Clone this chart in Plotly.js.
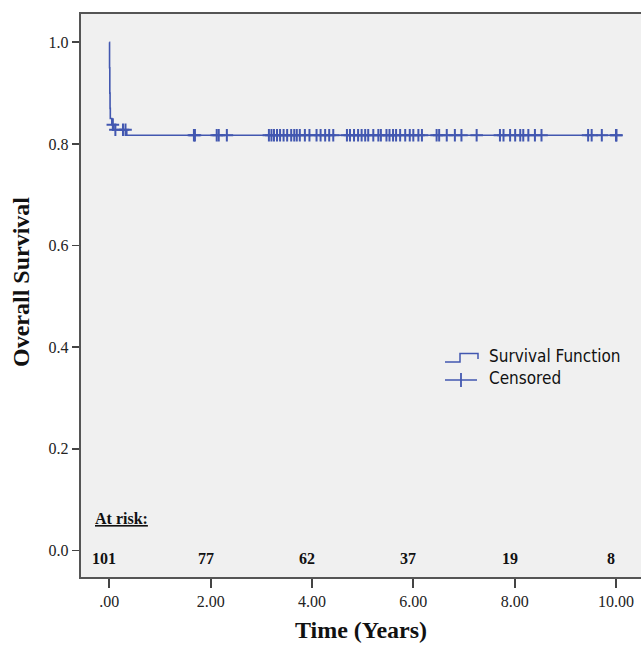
<!DOCTYPE html>
<html><head><meta charset="utf-8">
<script src="https://cdn.plot.ly/plotly-3.0.1.min.js"></script>
<style>html,body{margin:0;padding:0;background:#fff}</style>
</head><body><div id="chart" style="width:643px;height:645px"></div>
<script>
// Kaplan-Meier step function (time in years, survival proportion)
const stepTimes = [0, 0.005, 0.01, 0.015, 0.02, 0.05, 0.09, 0.345, 10.01];
const stepSurv  = [1.0, 0.95, 0.90, 0.87, 0.85, 0.838, 0.828, 0.817, 0.817];
// Censored observation times (years)
const censorTimes = [0.07, 0.12, 0.27, 0.32, 1.67, 1.69,
  2.12, 2.16, 2.32, 3.15, 3.20, 3.25, 3.31, 3.37, 3.44, 3.51, 3.59, 3.65, 3.70, 3.76, 3.86, 3.95,
  4.09, 4.17, 4.26, 4.34, 4.42, 4.69, 4.75, 4.83, 4.91, 4.98, 5.05, 5.11, 5.21, 5.31, 5.36, 5.47,
  5.53, 5.60, 5.66, 5.74, 5.84, 5.93, 6.00, 6.10, 6.17, 6.46, 6.51, 6.66, 6.82, 6.95, 7.25, 7.71,
  7.78, 7.91, 8.01, 8.11, 8.17, 8.27, 8.40, 8.53, 9.45, 9.52, 9.72, 10.00, 10.01];
// Number at risk
const riskTimes  = [0, 2, 4, 6, 8, 10];
const riskCounts = [101, 77, 62, 37, 19, 8];
// Tick labels
const xTickVals = [0, 2, 4, 6, 8, 10];
const xTickText = ['.00', '2.00', '4.00', '6.00', '8.00', '10.00'];
const yTickVals = [0, 0.2, 0.4, 0.6, 0.8, 1.0];
const yTickText = ['0.0', '0.2', '0.4', '0.6', '0.8', '1.0'];
const seriesNames = ['Survival Function', 'Censored'];
const xTitle = 'Time (Years)';
const yTitle = 'Overall Survival';

function survAt(t) {
  let s = stepSurv[0];
  for (let i = 0; i < stepTimes.length; i++) { if (stepTimes[i] <= t) s = stepSurv[i]; }
  return s;
}

const W = 643, H = 645;
const M = {l: 81, r: 2, t: 14, b: 68};
const PW = W - M.l - M.r, PH = H - M.t - M.b;
const px = x => (x - M.l) / PW;
const py = y => (H - M.b - y) / PH;

const blue = '#4257b0';
const serif = 'Liberation Serif, Times New Roman, serif';
const sans = 'DejaVu Sans Condensed, Liberation Sans, Arial, sans-serif';

const traces = [
  {x: stepTimes, y: stepSurv, type: 'scatter', mode: 'lines', name: seriesNames[0],
   line: {shape: 'hv', color: blue, width: 1.6}, hoverinfo: 'skip'},
  {x: censorTimes, y: censorTimes.map(survAt), type: 'scatter', mode: 'markers', name: seriesNames[1],
   marker: {symbol: 'cross-thin', size: 9, line: {color: blue, width: 2}, color: blue}, hoverinfo: 'skip'}
];

const annotations = [
  {xref: 'x', yref: 'y', x: -0.316, y: 0.064, xanchor: 'left', yanchor: 'middle', showarrow: false,
   text: '<b><u>At risk:</u></b>', font: {family: serif, size: 16, color: '#111'}},
  {xref: 'paper', yref: 'paper', x: px(21), y: py(282), xanchor: 'center', yanchor: 'middle',
   showarrow: false, textangle: -90, text: '<b>' + yTitle + '</b>',
   font: {family: serif, size: 24, color: '#111'}}
];
riskTimes.forEach((t, i) => annotations.push({
  xref: 'x', yref: 'y', x: t, y: -0.0148, xanchor: 'center', yanchor: 'middle', xshift: -5,
  showarrow: false, text: '<b>' + riskCounts[i] + '</b>', font: {family: serif, size: 16, color: '#111'}
}));
annotations.push({xref: 'paper', yref: 'paper', x: px(487), y: py(356), xanchor: 'left', yanchor: 'middle',
  showarrow: false, text: seriesNames[0], font: {family: sans, size: 17, color: '#111'}});
annotations.push({xref: 'paper', yref: 'paper', x: px(487), y: py(378), xanchor: 'left', yanchor: 'middle',
  showarrow: false, text: seriesNames[1], font: {family: sans, size: 17, color: '#111'}});

const shapes = [
  {type: 'path', xref: 'paper', yref: 'paper',
   path: `M${px(445)},${py(362)} L${px(460)},${py(362)} L${px(460)},${py(353.5)} L${px(478)},${py(353.5)} L${px(478)},${py(359)}`,
   line: {color: blue, width: 1.5}},
  {type: 'line', xref: 'paper', yref: 'paper', x0: px(445), x1: px(477), y0: py(380), y1: py(380),
   line: {color: blue, width: 1.5}},
  {type: 'line', xref: 'paper', yref: 'paper', x0: px(461), x1: px(461), y0: py(373), y1: py(387),
   line: {color: blue, width: 1.8}}
];

const layout = {
  width: W, height: H, margin: M,
  paper_bgcolor: '#ffffff', plot_bgcolor: '#f0f0f0',
  showlegend: false,
  xaxis: {range: [-0.5585, 10.4935], tickvals: xTickVals, ticktext: xTickText,
    showgrid: false, zeroline: false, showline: true, mirror: true, linecolor: '#555', linewidth: 2.2,
    ticks: 'outside', ticklen: 9, tickwidth: 1.8, tickcolor: '#444',
    tickfont: {family: serif, size: 16, color: '#222'},
    title: {text: '<b>' + xTitle + '</b>', font: {family: serif, size: 24, color: '#111'}, standoff: 12}},
  yaxis: {range: [-0.0521, 1.0557], tickvals: yTickVals, ticktext: yTickText,
    showgrid: false, zeroline: false, showline: true, linecolor: '#555', linewidth: 2.2,
    ticks: 'outside', ticklen: 7, tickwidth: 1.8, tickcolor: '#444',
    tickfont: {family: serif, size: 16, color: '#222'}},
  annotations: annotations,
  shapes: shapes
};

Plotly.newPlot('chart', traces, layout, {staticPlot: true, displayModeBar: false});
</script></body></html>
